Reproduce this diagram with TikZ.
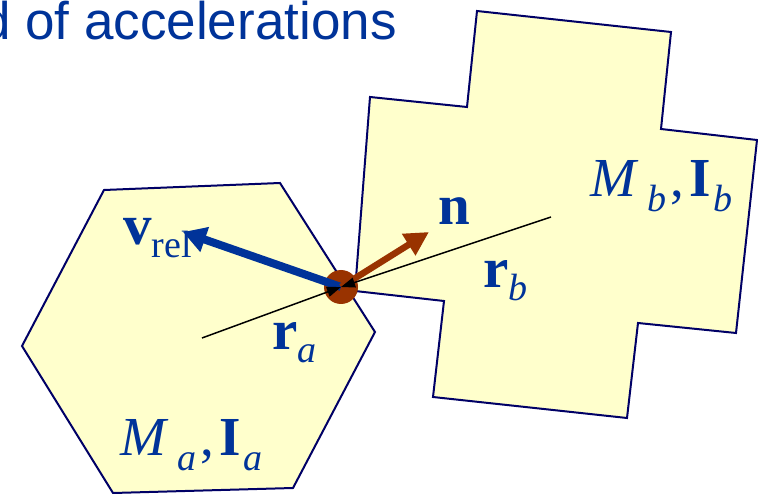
\documentclass[tikz,border=0pt]{standalone}
\usepackage{fontspec}
\setmainfont{Liberation Serif}
\newfontfamily\headfont{Liberation Sans}
\usetikzlibrary{arrows.meta}
\definecolor{bodyfill}{HTML}{FFFFCC}
\definecolor{bodyline}{HTML}{000066}
\definecolor{labblue}{HTML}{003399}
\definecolor{contbrown}{HTML}{993300}
\newcommand\subsc[2][13pt]{\raisebox{-#1}{\fontsize{38}{40}\selectfont\mdseries #2}}
\newcommand\massinert[1]{\textit{M}\hspace{9pt}\subsc[15pt]{\itshape #1}\hspace{4pt},\hspace{5pt}\textbf{I}\hspace{3pt}\subsc[15pt]{\itshape #1}}
\tikzset{
  body/.style  ={draw=bodyline,fill=bodyfill,line width=2pt,line join=miter},
  lab/.style   ={text=labblue,font=\fontsize{57}{60}\selectfont,inner sep=0pt,anchor=base west},
  masslab/.style={lab,font=\fontsize{55}{58}\selectfont},
  contact/.style={circle,fill=contbrown,minimum size=34pt,inner sep=0pt},
  rvec/.style  ={-{Triangle[length=14pt,width=10pt]},line width=1.5pt,draw=black},
  vvec/.style  ={-{Triangle[length=23pt,width=25pt]},line width=8pt,draw=labblue},
  nvec/.style  ={-{Triangle[length=24pt,width=24pt]},line width=6.5pt,draw=contbrown},
}
\begin{document}
\begin{tikzpicture}[x=1pt,y=-1pt]
  \useasboundingbox (0,0) rectangle (758,494);
  \node[lab,font=\headfont\fontsize{53}{56}\selectfont] (title) at (-19,40) {d of accelerations};

  % the two bodies
  \draw[body] (104,190) -- (280,183) -- (375,332) -- (293,488) -- (113,493) -- (22,346) -- cycle;
  \draw[body] (477,11) -- (671,32) -- (661,129) -- (757,140) -- (736,333) -- (638,323)
              -- (627,418) -- (433,397) -- (444,301) -- (355,291) -- (370,97) -- (467,107) -- cycle;

  \coordinate (ca) at (202,338);
  \coordinate (cb) at (551,217);
  \coordinate (vtip) at (183,232);
  \coordinate (ntip) at (429,232);
  \node[contact] (cp) at (341,287) {};

  \draw[vvec] (cp.center) -- (vtip);
  \draw[nvec] (cp.center) -- (ntip);
  \draw[rvec] (ca) -- (cp.center);
  \draw[rvec] (cb) -- (cp.center);

  \node[lab] (vlab) at (123,245) {\textbf{v}\subsc{rel}};
  \node[lab] (nlab) at (438,225) {\textbf{n}};
  \node[lab] (ralab) at (272,350) {\textbf{r}\subsc{\itshape a}};
  \node[lab] (rblab) at (483,288) {\textbf{r}\subsc{\itshape b}};
  \node[masslab] (malab) at (120,455) {\massinert{a}};
  \node[masslab] (mblab) at (590,197) {\massinert{b}};
\end{tikzpicture}
\end{document}
